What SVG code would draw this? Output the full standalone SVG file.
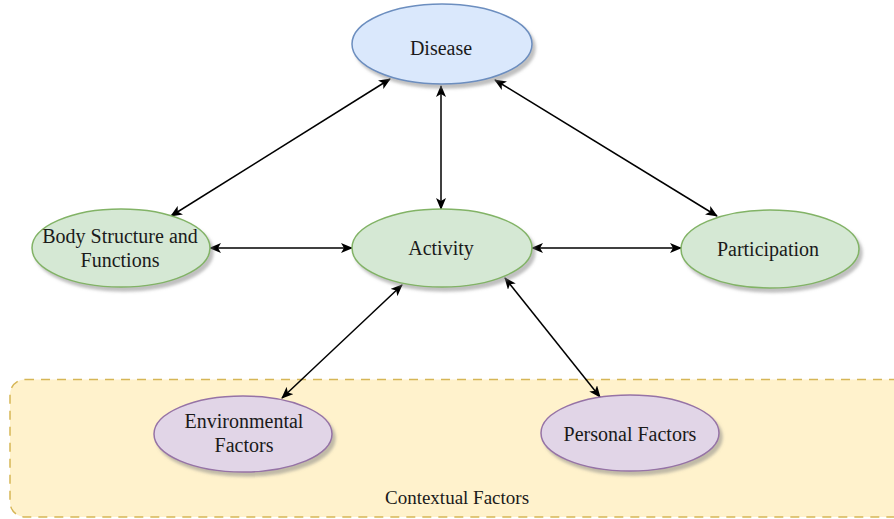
<svg xmlns="http://www.w3.org/2000/svg" width="894" height="519" viewBox="0 0 894 519">
<style>
.lbl{font-family:"Liberation Serif","Times New Roman",serif;font-size:20px;fill:#1a1a1a;text-anchor:middle}
.blue{fill:#dae8fc;stroke:#6c8ebf;stroke-width:1.5}
.green{fill:#d5e8d4;stroke:#82b366;stroke-width:1.5}
.purple{fill:#e1d5e7;stroke:#9673a6;stroke-width:1.5}
.conn line{stroke:#000;stroke-width:1.5;marker-start:url(#arr);marker-end:url(#arr)}
</style>
<defs>
<filter id="sh" x="-20%" y="-20%" width="140%" height="150%">
<feDropShadow dx="3" dy="4" stdDeviation="1.5" flood-color="#808080" flood-opacity="0.5"/>
</filter>
<marker id="arr" viewBox="0 0 12 10" refX="11" refY="5" markerWidth="12" markerHeight="10" markerUnits="userSpaceOnUse" orient="auto-start-reverse">
<path d="M0,0 L12,5 L0,10 L3,5 Z" fill="#000"/>
</marker>
</defs>
<rect width="894" height="519" fill="#fff"/>
<g id="contextual">
<rect x="10" y="379.5" width="900" height="137.5" rx="15" ry="15" fill="#fff2cc" stroke="#d6b656" stroke-width="1.5" stroke-dasharray="9 7"/>
<text class="lbl" x="457" y="504" style="font-size:19px">Contextual Factors</text>
</g>
<g class="conn" id="connectors">
<line x1="390" y1="79" x2="171" y2="216"/>
<line x1="441" y1="86" x2="441" y2="209"/>
<line x1="495" y1="80" x2="717" y2="216"/>
<line x1="210" y1="248" x2="352" y2="248"/>
<line x1="532" y1="248" x2="681" y2="248"/>
<line x1="402" y1="285" x2="282" y2="398"/>
<line x1="505" y1="278" x2="600" y2="397"/>
</g>
<g id="disease">
<ellipse class="blue" cx="442" cy="44" rx="90" ry="40" filter="url(#sh)"/>
<text class="lbl" x="441" y="55">Disease</text>
</g>
<g id="body">
<ellipse class="green" cx="121" cy="248" rx="89" ry="39" filter="url(#sh)"/>
<text class="lbl" x="120" y="243">Body Structure and</text>
<text class="lbl" x="120" y="267">Functions</text>
</g>
<g id="activity">
<ellipse class="green" cx="442" cy="248" rx="90" ry="39" filter="url(#sh)"/>
<text class="lbl" x="441" y="255">Activity</text>
</g>
<g id="participation">
<ellipse class="green" cx="770" cy="249" rx="89" ry="39" filter="url(#sh)"/>
<text class="lbl" x="768" y="256">Participation</text>
</g>
<g id="environmental">
<ellipse class="purple" cx="243" cy="434" rx="89" ry="38" filter="url(#sh)"/>
<text class="lbl" x="244" y="428">Environmental</text>
<text class="lbl" x="244" y="452">Factors</text>
</g>
<g id="personal">
<ellipse class="purple" cx="630" cy="433" rx="89" ry="38" filter="url(#sh)"/>
<text class="lbl" x="630" y="441">Personal Factors</text>
</g>
</svg>
